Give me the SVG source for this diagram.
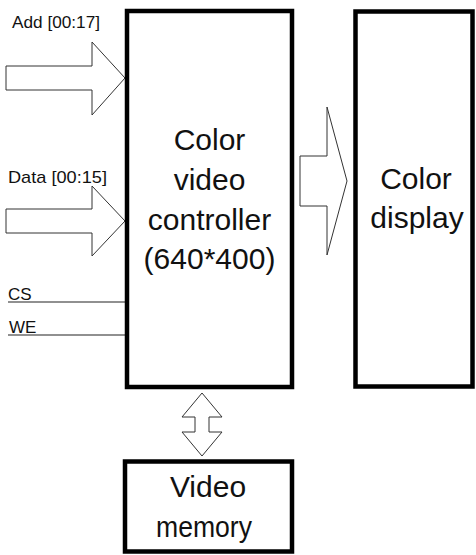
<svg xmlns="http://www.w3.org/2000/svg" width="476" height="555" viewBox="0 0 476 555">
<style>
.box{fill:#fff;stroke:#000;stroke-width:4.5}
.big{font-family:"Liberation Sans",Arial,sans-serif;font-size:30px;fill:#111;text-anchor:middle}
.small{font-family:"Liberation Sans",Arial,sans-serif;font-size:17px;fill:#111}
.arrow{fill:#fff;stroke:#333;stroke-width:1}
.wire{stroke:#222;stroke-width:1.2;fill:none}
</style>
<rect width="476" height="555" fill="#fff"/>
<g id="connectors">
<polygon class="arrow" points="6,66 92,66 92,42 125,78 92,115 92,90 6,90"/>
<polygon class="arrow" points="6,209 92,209 92,186 125,221 92,256 92,233 6,233"/>
<polygon class="arrow" points="300,156 327,156 327,107 347,181 327,255 327,206 300,206"/>
<polygon class="arrow" points="202,393 222,417 209,417 209,432 222,432 202,456 182,432 195,432 195,417 182,417"/>
<line class="wire" x1="8" y1="302" x2="125" y2="302"/>
<line class="wire" x1="8" y1="335" x2="125" y2="335"/>
<text class="small" x="12" y="28" textLength="88" lengthAdjust="spacingAndGlyphs">Add [00:17]</text>
<text class="small" x="8" y="183" textLength="99" lengthAdjust="spacingAndGlyphs">Data [00:15]</text>
<text class="small" x="8" y="300">CS</text>
<text class="small" x="9" y="333">WE</text>
</g>
<g id="controller">
<rect class="box" x="127" y="11" width="165" height="376"/>
<text class="big" x="209.5" y="150">Color</text>
<text class="big" x="209.5" y="190">video</text>
<text class="big" x="209.5" y="230">controller</text>
<text class="big" x="209.5" y="269">(640*400)</text>
</g>
<g id="display">
<rect class="box" x="355.5" y="11.5" width="117" height="375"/>
<text class="big" x="416" y="189">Color</text>
<text class="big" x="417" y="228">display</text>
</g>
<g id="memory">
<rect class="box" x="125" y="461.5" width="167" height="90"/>
<text class="big" x="208" y="497">Video</text>
<text class="big" x="204" y="537" textLength="96" lengthAdjust="spacingAndGlyphs">memory</text>
</g>
</svg>
